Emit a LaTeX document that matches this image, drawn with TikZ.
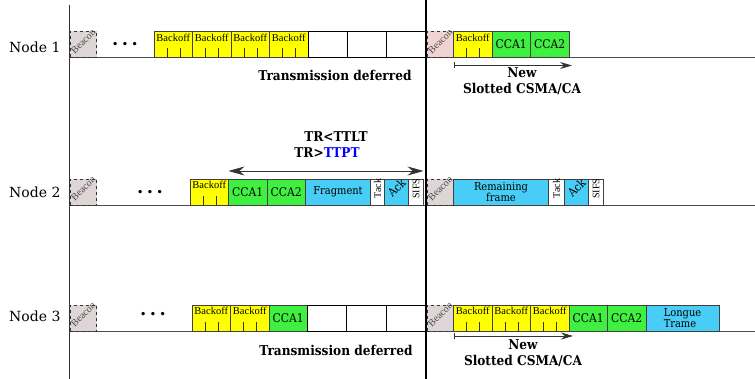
\documentclass[tikz,border=0pt]{standalone}
\usepackage{fontspec}
\setmainfont{DejaVu Serif}
\newfontfamily\condfont{DejaVu Serif Condensed}
\newfontfamily\timesfont{Liberation Serif}
\usetikzlibrary{positioning,arrows.meta}
\definecolor{bkyellow}{RGB}{255,255,0}
\definecolor{ccagreen}{RGB}{64,240,64}
\definecolor{datacyan}{RGB}{72,206,246}
\definecolor{beacongray}{RGB}{222,214,214}
\definecolor{beaconpink}{RGB}{240,212,212}
\newcommand{\tilt}[2]{\smash{\makebox[0pt]{\rotatebox[origin=c]{#1}{#2}}}}
\newcommand{\gap}{.\kern3.5pt.\kern3.5pt.}

\begin{document}
\begin{tikzpicture}[x=1pt,y=-1pt,
  box/.style={draw=black!75,line width=0.7pt,minimum height=26pt,inner sep=0pt,outer sep=0pt},
  bk/.style={box,fill=bkyellow,minimum width=38.5pt,font=\timesfont\fontsize{10.5}{10.5}\selectfont,text height=9pt,text depth=15pt,
    path picture={\draw[black!80,line width=0.6pt] ([xshift=13pt]path picture bounding box.south west) -- +(0pt,9pt)
      ([xshift=26pt]path picture bounding box.south west) -- +(0pt,9pt);}},
  cca/.style={box,fill=ccagreen,minimum width=38.5pt,font=\condfont\fontsize{12}{12}\selectfont},
  idle/.style={box,draw=black,line width=0.9pt,minimum width=39.3pt},
  frame/.style={box,fill=datacyan,font=\condfont\fontsize{11}{11}\selectfont},
  beacon/.style={box,dashed,draw=black!80,fill=beacongray,minimum width=26.5pt,font=\timesfont\fontsize{10}{10}\selectfont,text=black!70},
  slim/.style={box,fill=white,font=\timesfont\fontsize{10}{10}\selectfont},
  ack/.style={box,fill=datacyan,minimum width=24pt,font=\condfont\fontsize{11.5}{11.5}\selectfont},
  lbl/.style={font=\fontsize{14}{14}\selectfont},
  note/.style={font=\condfont\bfseries\fontsize{13.5}{16}\selectfont,align=center},
  dots/.style={font=\bfseries\fontsize{18}{18}\selectfont,anchor=base,inner sep=0pt},
  timeline/.style={black!70,line width=0.8pt}]
\useasboundingbox (0,0) rectangle (755,379);

\draw[timeline] (69,57.5) -- (755,57.5);
\draw[timeline] (69,205) -- (755,205);
\draw[timeline] (69,331) -- (755,331);

\node[lbl,anchor=east] (n1) at (64,47) {Node 1};
\node[lbl,anchor=east] (n2) at (64,192) {Node 2};
\node[lbl,anchor=east] (n3) at (64,316) {Node 3};

\node[beacon,anchor=south west] (bc1) at (70,57.5) {\tilt{45}{Beacon}};
\node[dots] (dt1) at (125,46) {\gap};
\node[bk,anchor=south west] (bk11) at (154,57.5) {Backoff};
\node[bk,right=0pt of bk11] (bk12) {Backoff};
\node[bk,right=0pt of bk12] (bk13) {Backoff};
\node[bk,right=0pt of bk13] (bk14) {Backoff};
\node[idle,right=0pt of bk14] (id11) {};
\node[idle,right=0pt of id11] (id12) {};
\node[idle,right=0pt of id12] (id13) {};
\node[beacon,fill=beaconpink,anchor=south west] (bc1r) at (427,57.5) {\tilt{45}{Beacon}};
\node[bk,right=0pt of bc1r] (bk1r) {Backoff};
\node[cca,right=0pt of bk1r] (cc11r) {CCA1};
\node[cca,right=0pt of cc11r] (cc12r) {CCA2};
\node[note] (td1) at (335,75) {Transmission deferred};
\node[note] (ns1) at (522,81) {New\\Slotted CSMA/CA};
\draw[black!80,line width=0.8pt,{Bar[width=6pt]}-{Stealth[length=12pt,width=7pt]}] ([yshift=-8pt]bk1r.south west) -- ([xshift=3pt,yshift=-8pt]cc12r.south east);

\node[beacon,anchor=south west] (bc2) at (70,205) {\tilt{45}{Beacon}};
\node[dots] (dt2) at (150,194) {\gap};
\node[bk,anchor=south west] (bk21) at (190,205) {Backoff};
\node[cca,right=0pt of bk21] (cc21) {CCA1};
\node[cca,right=0pt of cc21] (cc22) {CCA2};
\node[frame,minimum width=65pt,right=0pt of cc22] (fr2) {Fragment};
\node[slim,minimum width=14pt,right=0pt of fr2] (tk2) {\tilt{90}{Tack}};
\node[ack,right=0pt of tk2] (ak2) {\tilt{45}{Ack}};
\node[slim,minimum width=15pt,right=0pt of ak2] (sf2) {\tilt{90}{SIFS}};
\node[beacon,anchor=south west] (bc2r) at (427,205) {\tilt{45}{Beacon}};
\node[frame,minimum width=95pt,align=center,right=0pt of bc2r] (rf2) {Remaining\\frame};
\node[slim,minimum width=16pt,right=0pt of rf2] (tk2r) {\tilt{90}{Tack}};
\node[ack,right=0pt of tk2r] (ak2r) {\tilt{45}{Ack}};
\node[slim,minimum width=15pt,right=0pt of ak2r] (sf2r) {\tilt{90}{SIFS}};
\node[note] (tr1) at (336,137) {TR<TTLT};
\node[note] (tr2) at (327,153) {TR>\textcolor{blue}{TTPT}};
\draw[black!80,line width=0.8pt,{Stealth[length=16pt,width=9pt]}-{Stealth[length=16pt,width=9pt]}] ([yshift=8pt]cc21.north west) -- ([yshift=8pt]sf2.north east);

\node[beacon,anchor=south west] (bc3) at (70,331) {\tilt{45}{Beacon}};
\node[dots] (dt3) at (153,316) {\gap};
\node[bk,anchor=south west] (bk31) at (192,331) {Backoff};
\node[bk,right=0pt of bk31] (bk32) {Backoff};
\node[cca,right=0pt of bk32] (cc31) {CCA1};
\node[idle,right=0pt of cc31] (id31) {};
\node[idle,right=0pt of id31] (id32) {};
\node[idle,right=0pt of id32] (id33) {};
\node[beacon,anchor=south west] (bc3r) at (427,331) {\tilt{45}{Beacon}};
\node[bk,right=0pt of bc3r] (bk31r) {Backoff};
\node[bk,right=0pt of bk31r] (bk32r) {Backoff};
\node[bk,right=0pt of bk32r] (bk33r) {Backoff};
\node[cca,right=0pt of bk33r] (cc31r) {CCA1};
\node[cca,right=0pt of cc31r] (cc32r) {CCA2};
\node[frame,minimum width=73pt,align=left,right=0pt of cc32r] (lt3) {Longue\\Trame};
\node[note] (td3) at (336,350) {Transmission deferred};
\node[note] (ns3) at (523,353) {New\\Slotted CSMA/CA};
\draw[black!80,line width=0.8pt,{Bar[width=6pt]}-{Stealth[length=12pt,width=7pt]}] ([yshift=-5pt]bk31r.south west) -- ([xshift=4pt,yshift=-5pt]bk33r.south east);

\draw[black!80,line width=0.8pt] (69,5) -- (69,379);
\draw[black,line width=1.2pt] (426,0) -- (426,379);
\end{tikzpicture}
\end{document}
